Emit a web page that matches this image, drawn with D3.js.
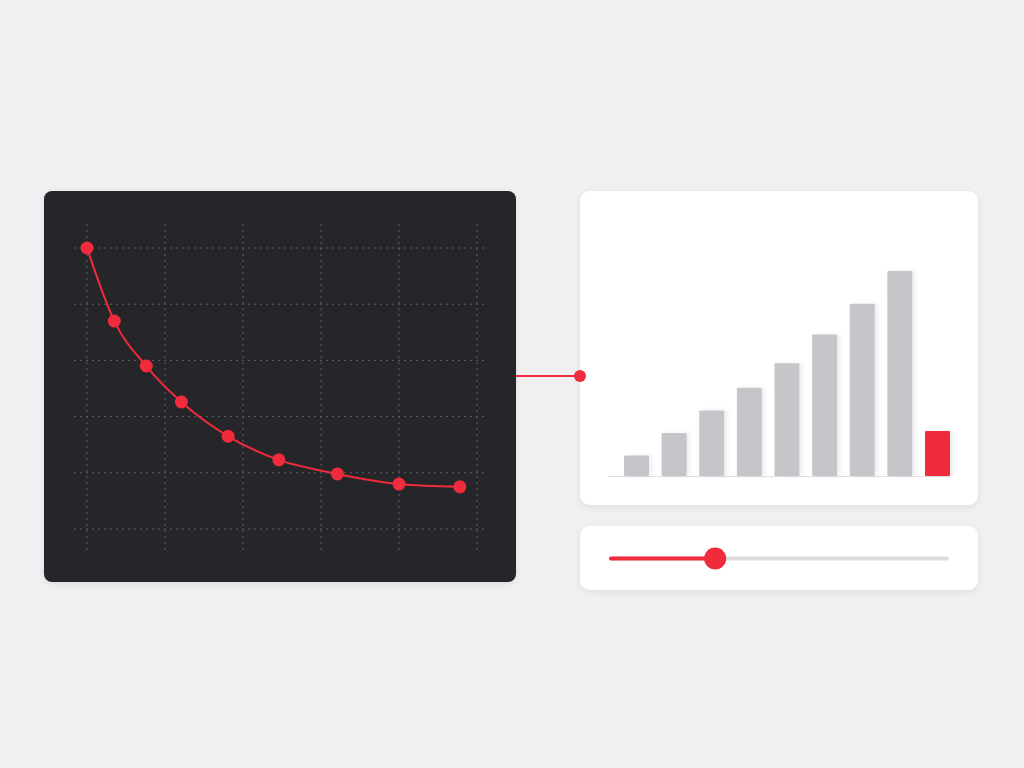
<!DOCTYPE html>
<html>
<head>
<meta charset="utf-8">
<script src="https://cdn.jsdelivr.net/npm/d3@7"></script>
<style>
  html, body { margin: 0; padding: 0; background: #f0f0f2; }
  svg { display: block; }
</style>
</head>
<body>
<svg id="chart"></svg>
<script>
// Decay curve (left panel), in grid units
const curveX = [0, 0.35, 0.76, 1.21, 1.81, 2.46, 3.21, 4.0, 4.78];
const curveY = [5.0, 3.70, 2.90, 2.26, 1.65, 1.23, 0.98, 0.80, 0.75];
const gridTicksX = [0, 1, 2, 3, 4, 5];
const gridTicksY = [0, 1, 2, 3, 4, 5];

// Bars (right panel)
const barCategories = ['b1', 'b2', 'b3', 'b4', 'b5', 'b6', 'b7', 'b8', 'b9'];
const barValues = [10, 21, 32, 43, 55, 69, 84, 100, 22];
const highlightIndex = 8;

// Slider
const sliderValue = 31;

const RED = '#ef2b3c';
const W = 1024, H = 768;

const svg = d3.select('#chart')
    .attr('width', W)
    .attr('height', H);

// soft shadow for cards
const defs = svg.append('defs');
const shadow = defs.append('filter')
    .attr('id', 'shadow')
    .attr('x', '-10%').attr('y', '-10%')
    .attr('width', '120%').attr('height', '130%');
shadow.append('feDropShadow')
    .attr('dx', 0).attr('dy', 2)
    .attr('stdDeviation', 3)
    .attr('flood-color', '#000')
    .attr('flood-opacity', 0.08);

const barShadow = defs.append('filter')
    .attr('id', 'barShadow')
    .attr('x', '-20%').attr('y', '-10%')
    .attr('width', '160%').attr('height', '120%');
barShadow.append('feDropShadow')
    .attr('dx', 3).attr('dy', 0)
    .attr('stdDeviation', 2)
    .attr('flood-color', '#000')
    .attr('flood-opacity', 0.07);

// ---------- left dark panel ----------
svg.append('rect')
    .attr('x', 44).attr('y', 191)
    .attr('width', 472).attr('height', 391)
    .attr('rx', 8)
    .attr('fill', '#25282c')
    .attr('filter', 'url(#shadow)');

const xScale = d3.scaleLinear().domain([0, 5]).range([87, 477]);
const yScale = d3.scaleLinear().domain([0, 5]).range([529, 248]);

const grid = svg.append('g').attr('class', 'grid');

grid.selectAll('.vline')
    .data(gridTicksX)
    .join('line')
    .attr('class', 'vline')
    .attr('x1', d => xScale(d)).attr('x2', d => xScale(d))
    .attr('y1', 224).attr('y2', 552)
    .attr('stroke', '#5e6166')
    .attr('stroke-width', 1)
    .attr('stroke-dasharray', '2,4');

grid.selectAll('.hline')
    .data(gridTicksY)
    .join('line')
    .attr('class', 'hline')
    .attr('x1', 74).attr('x2', 484)
    .attr('y1', d => yScale(d)).attr('y2', d => yScale(d))
    .attr('stroke', '#5e6166')
    .attr('stroke-width', 1)
    .attr('stroke-dasharray', '2,4');

const points = curveX.map((x, i) => ({ x: x, y: curveY[i] }));

const line = d3.line()
    .x(d => xScale(d.x))
    .y(d => yScale(d.y))
    .curve(d3.curveMonotoneX);

svg.append('path')
    .datum(points)
    .attr('d', line)
    .attr('fill', 'none')
    .attr('stroke', RED)
    .attr('stroke-width', 2);

svg.selectAll('.pt')
    .data(points)
    .join('circle')
    .attr('class', 'pt')
    .attr('cx', d => xScale(d.x))
    .attr('cy', d => yScale(d.y))
    .attr('r', 6.5)
    .attr('fill', RED);

// ---------- right bar card ----------
svg.append('rect')
    .attr('x', 580).attr('y', 191)
    .attr('width', 398).attr('height', 314)
    .attr('rx', 10)
    .attr('fill', '#ffffff')
    .attr('filter', 'url(#shadow)');

// connector
svg.append('line')
    .attr('x1', 516).attr('x2', 580)
    .attr('y1', 376).attr('y2', 376)
    .attr('stroke', RED)
    .attr('stroke-width', 2);
svg.append('circle')
    .attr('cx', 580).attr('cy', 376)
    .attr('r', 6)
    .attr('fill', RED);

const xBand = d3.scaleBand()
    .domain(barCategories)
    .range([624, 950])
    .paddingInner(0.335)
    .paddingOuter(0);

const yBar = d3.scaleLinear().domain([0, 100]).range([476, 271]);

svg.append('line')
    .attr('x1', 608).attr('x2', 950)
    .attr('y1', yBar(0) + 0.5).attr('y2', yBar(0) + 0.5)
    .attr('stroke', '#e0e0e4')
    .attr('stroke-width', 1);

svg.selectAll('.bar')
    .data(barValues)
    .join('rect')
    .attr('class', 'bar')
    .attr('x', (d, i) => xBand(barCategories[i]))
    .attr('y', d => yBar(d))
    .attr('width', xBand.bandwidth())
    .attr('height', d => yBar(0) - yBar(d))
    .attr('rx', 1)
    .attr('fill', (d, i) => i === highlightIndex ? RED : '#c5c6c9')
    .attr('filter', 'url(#barShadow)');

// ---------- slider card ----------
svg.append('rect')
    .attr('x', 580).attr('y', 526)
    .attr('width', 398).attr('height', 64)
    .attr('rx', 10)
    .attr('fill', '#ffffff')
    .attr('filter', 'url(#shadow)');

const sScale = d3.scaleLinear().domain([0, 100]).range([611, 947]);
const trackY = 558.5;

svg.append('line')
    .attr('x1', sScale(0)).attr('x2', sScale(100))
    .attr('y1', trackY).attr('y2', trackY)
    .attr('stroke', '#dcdcde')
    .attr('stroke-width', 4)
    .attr('stroke-linecap', 'round');

svg.append('line')
    .attr('x1', sScale(0)).attr('x2', sScale(sliderValue))
    .attr('y1', trackY).attr('y2', trackY)
    .attr('stroke', RED)
    .attr('stroke-width', 4)
    .attr('stroke-linecap', 'round');

svg.append('circle')
    .attr('cx', sScale(sliderValue))
    .attr('cy', trackY)
    .attr('r', 11)
    .attr('fill', RED);
</script>
</body>
</html>
